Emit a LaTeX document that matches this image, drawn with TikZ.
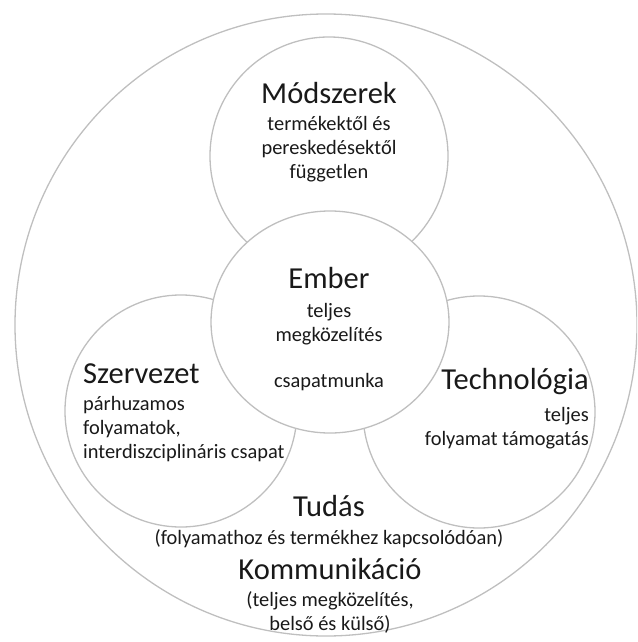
\documentclass[tikz,border=0pt]{standalone}
\usepackage{fontspec}
\usetikzlibrary{shapes.geometric}
\setmainfont{Carlito}
\begin{document}
\begin{tikzpicture}[x=1pt,y=-1pt,
  ringline/.style={draw=black!25, line width=1.3pt, inner sep=0pt},
  ring/.style={ringline, circle, minimum size=#1},
  hub/.style={ringline, ellipse, minimum width=238pt, minimum height=222pt, fill=white},
  head/.style={text=black!90, font=\fontsize{30.5}{34}\selectfont, inner sep=0pt},
  body/.style={text=black!90, font=\fontsize{20.4}{24}\selectfont, inner sep=0pt, align=center},
  bodyl/.style={body, align=left},
  bodyr/.style={body, align=right}]
\useasboundingbox (0,0) rectangle (637,642);
\clip (0,0) rectangle (637,642);

% outer circle and the four domains
\node[ring=622pt] (outer) at (326,325) {};
\node[ring=238pt] (modsz) at (329,156) {};
\node[ring=232pt] (szerv) at (181,411) {};
\node[ring=232pt] (techn) at (479,412) {};
\node[hub] (ember) at (330,322) {};

% Módszerek
\node[head] (modszT) at (329,93) {Módszerek};
\node[body, anchor=north] (modszB) at (329,116) {termékektől és\\pereskedésektől\\független};

% Ember
\node[head] (emberT) at (329,278) {Ember};
\node[body, anchor=north] (emberB) at (329,303) {teljes\\megközelítés};
\node[body] (emberC) at (329,382) {csapatmunka};

% Szervezet
\node[head, anchor=west] (szervT) at (83,374) {Szervezet};
\node[bodyl, anchor=north west] (szervB) at (83,396) {párhuzamos\\folyamatok,\\interdiszciplináris csapat};

% Technológia
\node[head, anchor=east] (technT) at (589,382) {Technológia};
\node[bodyr, anchor=north east] (technB) at (589,407) {teljes\\folyamat támogatás};

% Tudás and Kommunikáció
\node[head] (tudasT) at (329,506) {Tudás};
\node[body] (tudasB) at (329,539) {(folyamathoz és termékhez kapcsolódóan)};
\node[head] (kommT) at (330,569) {Kommunikáció};
\node[body, anchor=north] (kommB) at (330,591) {(teljes megközelítés,\\belső és külső)};
\end{tikzpicture}
\end{document}
